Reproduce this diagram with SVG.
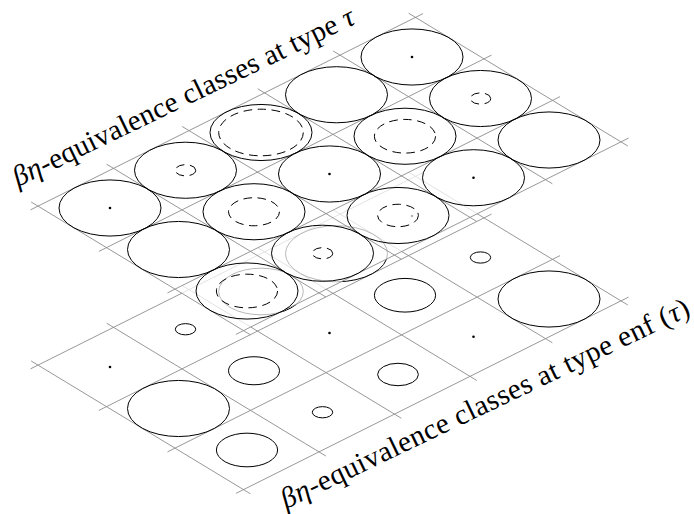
<svg xmlns="http://www.w3.org/2000/svg" xmlns:xlink="http://www.w3.org/1999/xlink" width="694" height="514" viewBox="0 0 694 514">
<style>
.gl{stroke:#8c8c8c;stroke-width:0.9;fill:none}
.el{stroke:#000;stroke-width:1;fill:none}
.da{stroke:#000;stroke-width:1;fill:none;stroke-dasharray:8.5 5.5}
.dot{fill:#000}
.lbl{font-family:'Liberation Serif','Times New Roman',serif;font-size:29px;fill:#000}
.gr{font-style:italic}
</style>
<defs>
<g id="grid" class="gl">
<line x1="423.05" y1="13.6" x2="30.45" y2="209.9"/>
<line x1="491.55" y1="55.1" x2="98.95" y2="251.4"/>
<line x1="560.05" y1="96.6" x2="167.45" y2="292.9"/>
<line x1="628.55" y1="138.1" x2="235.95" y2="334.4"/>
<line x1="408.65" y1="13.225" x2="627.85" y2="146.025"/>
<line x1="333.15" y1="50.975" x2="552.35" y2="183.775"/>
<line x1="257.65" y1="88.725" x2="476.85" y2="221.525"/>
<line x1="182.15" y1="126.475" x2="401.35" y2="259.275"/>
<line x1="106.65" y1="164.225" x2="325.85" y2="297.025"/>
<line x1="31.15" y1="201.975" x2="250.35" y2="334.775"/>
</g>
</defs>

<g id="connectors">
<use id="grid-bottom" xlink:href="#grid" href="#grid" y="159"/>
</g>

<g id="bottom-plane">
<g id="b00"><circle class="dot" cx="412" cy="216" r="1.3"/></g>
<g id="b01"><ellipse class="el" cx="336.5" cy="253.75" rx="51" ry="28.05"/></g>
<g id="b02"><ellipse class="el" cx="261" cy="291.5" rx="42.3" ry="23.3"/></g>
<g id="b03"><ellipse class="el" cx="185.5" cy="329.25" rx="10.2" ry="5.61"/></g>
<g id="b04"><circle class="dot" cx="110" cy="367" r="1.3"/></g>
<g id="b10"><ellipse class="el" cx="480.5" cy="257.5" rx="10.2" ry="5.61"/></g>
<g id="b11"><ellipse class="el" cx="405" cy="295.25" rx="30.6" ry="16.83"/></g>
<g id="b12"><circle class="dot" cx="329.5" cy="333" r="1.3"/></g>
<g id="b13"><ellipse class="el" cx="254" cy="370.75" rx="25.5" ry="14.03"/></g>
<g id="b14"><ellipse class="el" cx="178.5" cy="408.5" rx="51" ry="28.05"/></g>
<g id="b20"><ellipse class="el" cx="549" cy="299" rx="51" ry="28.05"/></g>
<g id="b21"><circle class="dot" cx="473.5" cy="336.75" r="1.3"/></g>
<g id="b22"><ellipse class="el" cx="398" cy="374.5" rx="20.4" ry="11.22"/></g>
<g id="b23"><ellipse class="el" cx="322.5" cy="412.25" rx="10.2" ry="5.61"/></g>
<g id="b24"><ellipse class="el" cx="247" cy="450" rx="30.6" ry="16.83"/></g>
</g>

<polygon id="top-veil" points="415.5,17.375 621,141.875 243.5,330.625 38,206.125" fill="#fff" fill-opacity="0.72"/>

<g id="connectors-top">
<use id="grid-top" xlink:href="#grid" href="#grid"/>
</g>

<g id="top-plane">
<g id="t00"><ellipse class="el" cx="412" cy="57" rx="51" ry="28.05"/><circle class="dot" cx="412" cy="57" r="1.3"/></g>
<g id="t01"><ellipse class="el" cx="336.5" cy="94.75" rx="51" ry="28.05"/></g>
<g id="t02"><ellipse class="el" cx="261" cy="132.5" rx="51" ry="28.05"/><ellipse class="da" cx="261" cy="132.5" rx="42.3" ry="23.3"/></g>
<g id="t03"><ellipse class="el" cx="185.5" cy="170.25" rx="51" ry="28.05"/><ellipse class="da" cx="185.5" cy="170.25" rx="10.2" ry="5.61"/></g>
<g id="t04"><ellipse class="el" cx="110" cy="208" rx="51" ry="28.05"/><circle class="dot" cx="110" cy="208" r="1.3"/></g>
<g id="t10"><ellipse class="el" cx="480.5" cy="98.5" rx="51" ry="28.05"/><ellipse class="da" cx="480.5" cy="98.5" rx="10.2" ry="5.61"/></g>
<g id="t11"><ellipse class="el" cx="405" cy="136.25" rx="51" ry="28.05"/><ellipse class="da" cx="405" cy="136.25" rx="30.6" ry="16.83"/></g>
<g id="t12"><ellipse class="el" cx="329.5" cy="174" rx="51" ry="28.05"/><circle class="dot" cx="329.5" cy="174" r="1.3"/></g>
<g id="t13"><ellipse class="el" cx="254" cy="211.75" rx="51" ry="28.05"/><ellipse class="da" cx="254" cy="211.75" rx="25.5" ry="14.03"/></g>
<g id="t14"><ellipse class="el" cx="178.5" cy="249.5" rx="51" ry="28.05"/></g>
<g id="t20"><ellipse class="el" cx="549" cy="140" rx="51" ry="28.05"/></g>
<g id="t21"><ellipse class="el" cx="473.5" cy="177.75" rx="51" ry="28.05"/><circle class="dot" cx="473.5" cy="177.75" r="1.3"/></g>
<g id="t22"><ellipse class="el" cx="398" cy="215.5" rx="51" ry="28.05"/><ellipse class="da" cx="398" cy="215.5" rx="20.4" ry="11.22"/></g>
<g id="t23"><ellipse class="el" cx="322.5" cy="253.25" rx="51" ry="28.05"/><ellipse class="da" cx="322.5" cy="253.25" rx="10.2" ry="5.61"/></g>
<g id="t24"><ellipse class="el" cx="247" cy="291" rx="51" ry="28.05"/><ellipse class="da" cx="247" cy="291" rx="30.6" ry="16.83"/></g>
</g>

<g id="labels">
<text class="lbl" transform="translate(18,187) rotate(-25.8)" textLength="376" lengthAdjust="spacing"><tspan class="gr">βη</tspan>-equivalence classes at type <tspan class="gr">τ</tspan></text>
<text class="lbl" transform="translate(286,509) rotate(-25.6)" textLength="450" lengthAdjust="spacing"><tspan class="gr">βη</tspan>-equivalence classes at type enf (<tspan class="gr">τ</tspan>)</text>
</g>
</svg>
